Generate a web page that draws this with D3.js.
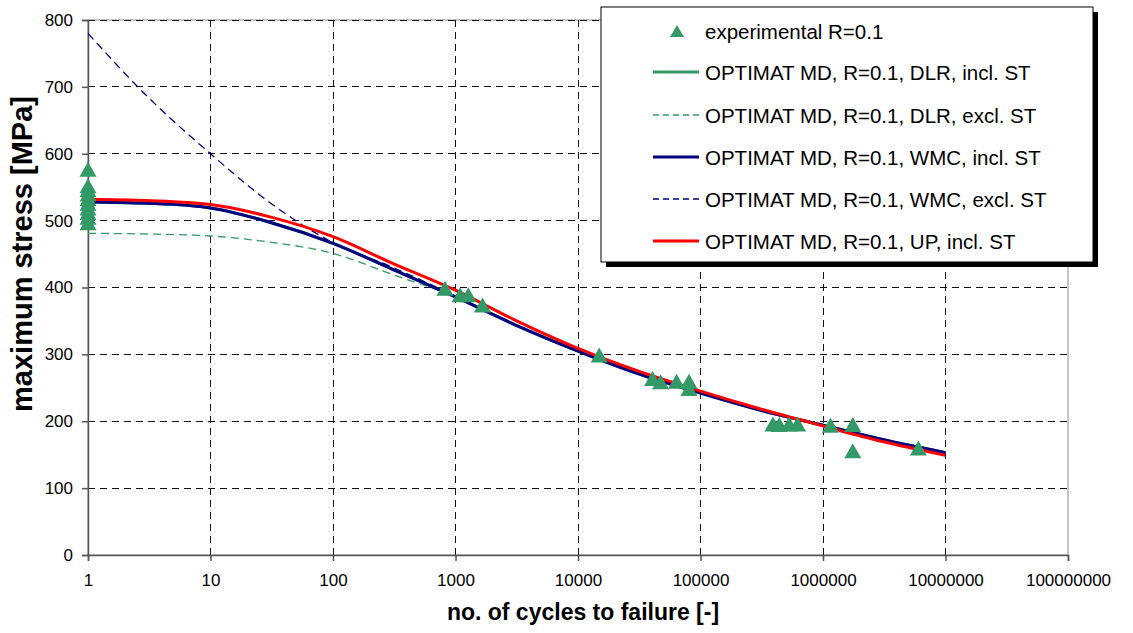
<!DOCTYPE html>
<html>
<head>
<meta charset="utf-8">
<script src="https://cdn.jsdelivr.net/npm/d3@7/dist/d3.min.js"></script>
<style>
  body { margin: 0; background: #fff; }
  svg { font-family: Arial, "Liberation Sans", sans-serif; }
</style>
</head>
<body>
<svg width="1133" height="633"></svg>
<script>
// model curves (cycles -> max stress, MPa)
const cycles  = [1, 3, 10, 30, 100, 300, 1000, 3000, 1e4, 3e4, 1e5, 3e5, 1e6, 3e6, 1e7];
const dlrIncl = [528, 526, 519, 498, 466, 428, 386, 345, 305, 272, 242, 217, 194, 173, 153];
const dlrExcl = [481, 480, 477, 468, 451, 420, 386, 345, 305, 272, 242, 217, 194, 173, 153];
const wmcIncl = [528, 526, 519, 498, 466, 428, 386, 345, 305, 272, 242, 217, 194, 173, 153];
const wmcExcl = [780, 687, 600, 528, 467, 431, 387, 345, 305, 272, 242, 217, 194, 173, 153];
const upIncl  = [532, 530, 524, 506, 476, 437, 396, 352, 309, 276, 245, 219, 193, 170, 149];

// experimental points
const expN = [1, 1, 1, 1, 1, 1, 1, 1, 1, 1,
              820, 1090, 1270, 1660, 14900,
              40600, 47200, 63800, 80500, 80500,
              390000, 440000, 530000, 620000,
              1150000, 1750000, 1750000, 6000000];
const expS = [577, 552, 546, 540, 533, 526, 519, 512, 505, 497,
              399, 389, 389, 374, 299,
              264, 259, 260, 260, 249,
              196, 195, 196, 196,
              194, 195, 156, 160];

const xTicks = [1, 10, 100, 1000, 1e4, 1e5, 1e6, 1e7, 1e8];
const yTicks = [0, 100, 200, 300, 400, 500, 600, 700, 800];

const legendLabels = [
  "experimental R=0.1",
  "OPTIMAT MD, R=0.1, DLR, incl. ST",
  "OPTIMAT MD, R=0.1, DLR, excl. ST",
  "OPTIMAT MD, R=0.1, WMC, incl. ST",
  "OPTIMAT MD, R=0.1, WMC, excl. ST",
  "OPTIMAT MD, R=0.1, UP, incl. ST"
];

const green = "#339966", navy = "#000080", red = "#ff0000";

const svg = d3.select("svg");
const pLeft = 88, pRight = 1068, pTop = 20, pBottom = 555;

const x = d3.scaleLog().domain([1, 1e8]).range([pLeft, pRight]);
const y = d3.scaleLinear().domain([0, 800]).range([pBottom, pTop]);

// triangle marker, centred on its bounding box
function triangle(w, h) {
  const p = d3.path();
  p.moveTo(0, -h / 2); p.lineTo(w / 2, h / 2); p.lineTo(-w / 2, h / 2); p.closePath();
  return p.toString();
}

// plot frame
svg.append("rect")
    .attr("x", pLeft).attr("y", pTop)
    .attr("width", pRight - pLeft).attr("height", pBottom - pTop)
    .attr("fill", "none").attr("stroke", "#8c8c8c").attr("stroke-width", 1);

// grid
const grid = svg.append("g").attr("stroke", "#111").attr("stroke-width", 1)
    .attr("stroke-dasharray", "7,5").attr("shape-rendering", "crispEdges");
grid.selectAll(".hg").data(yTicks.filter(d => d > 0)).enter().append("line")
    .attr("x1", pLeft).attr("x2", pRight)
    .attr("y1", d => y(d)).attr("y2", d => y(d));
grid.selectAll(".vg").data(xTicks.slice(1, -1)).enter().append("line")
    .attr("x1", d => x(d)).attr("x2", d => x(d))
    .attr("y1", pTop).attr("y2", pBottom);

// axes
const xAxis = svg.append("g")
    .attr("transform", `translate(0,${pBottom})`)
    .call(d3.axisBottom(x).tickValues(xTicks).tickFormat(d3.format("d")).tickSize(6).tickPadding(13));
const yAxis = svg.append("g")
    .attr("transform", `translate(${pLeft},0)`)
    .call(d3.axisLeft(y).tickValues(yTicks).tickSize(6).tickPadding(9));
[xAxis, yAxis].forEach(a => {
  a.selectAll("path").attr("stroke", "#555").attr("stroke-width", 1.5);
  a.selectAll("line").attr("stroke", "#555").attr("stroke-width", 1.5);
  a.selectAll("text").attr("font-size", 17).attr("fill", "#000")
      .attr("font-family", "Arial, 'Liberation Sans', sans-serif");
});

// axis titles
svg.append("text")
    .attr("x", 583).attr("y", 620)
    .attr("text-anchor", "middle").attr("font-size", 23).attr("font-weight", "bold")
    .text("no. of cycles to failure [-]");
svg.append("text")
    .attr("transform", "translate(32,254) rotate(-90)")
    .attr("text-anchor", "middle").attr("font-size", 29).attr("font-weight", "bold")
    .text("maximum stress [MPa]");

// curves
const line = d3.line()
    .x((d, i) => x(cycles[i]))
    .y(d => y(d))
    .curve(d3.curveMonotoneX);

const series = [
  { vals: dlrIncl, color: green, width: 3,   dash: null },
  { vals: dlrExcl, color: green, width: 1.3, dash: "8,5" },
  { vals: wmcIncl, color: navy,  width: 3,   dash: null },
  { vals: wmcExcl, color: navy,  width: 1.3, dash: "8,5" },
  { vals: upIncl,  color: red,   width: 3,   dash: null }
];

svg.append("g").selectAll("path").data(series).enter().append("path")
    .attr("d", d => line(d.vals))
    .attr("fill", "none")
    .attr("stroke", d => d.color)
    .attr("stroke-width", d => d.width)
    .attr("stroke-dasharray", d => d.dash);

// experimental markers
svg.append("g").selectAll("path").data(expN).enter().append("path")
    .attr("d", triangle(17, 15))
    .attr("transform", (d, i) => `translate(${x(d)},${y(expS[i])})`)
    .attr("fill", green);

// legend
const lg = svg.append("g");
const lx = 601, ly = 7, lw = 492, lh = 255;
lg.append("rect").attr("x", lx + 5).attr("y", ly + 5).attr("width", lw).attr("height", lh).attr("fill", "#000");
lg.append("rect").attr("x", lx).attr("y", ly).attr("width", lw).attr("height", lh)
    .attr("fill", "#fff").attr("stroke", "#000").attr("stroke-width", 1);

const rowY = [31, 72, 115, 157, 199, 241];
const items = lg.selectAll(".item").data(legendLabels).enter().append("g")
    .attr("transform", (d, i) => `translate(0,${rowY[i]})`);
items.append("text")
    .attr("x", 705).attr("y", 7.5)
    .attr("font-size", 20.5).text(d => d);
items.filter((d, i) => i === 0).append("path")
    .attr("d", triangle(14, 12))
    .attr("transform", "translate(677,0)")
    .attr("fill", green);
items.filter((d, i) => i > 0).append("line")
    .attr("x1", 653).attr("x2", 699)
    .attr("stroke", (d, i) => series[i].color)
    .attr("stroke-width", (d, i) => series[i].width)
    .attr("stroke-dasharray", (d, i) => series[i].dash ? "6,4" : null);
</script>
</body>
</html>
